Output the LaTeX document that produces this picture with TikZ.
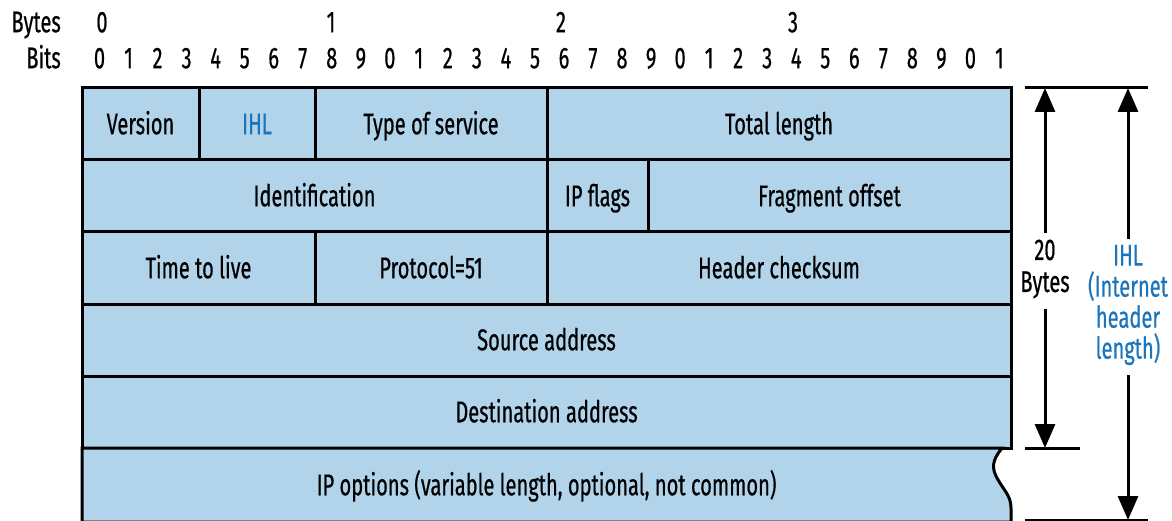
\documentclass[tikz,border=0pt]{standalone}
\usepackage{fontspec}
\setmainfont[FakeStretch=0.67,FakeBold=0.5]{Fira Sans}
\usetikzlibrary{arrows.meta}
\definecolor{cellfill}{HTML}{B2D4EA}
\definecolor{ihlblue}{HTML}{1B75BC}
\tikzset{
  cell/.style={draw=black, line width=3pt, fill=cellfill, inner sep=0pt, text height=20.5pt, text depth=0pt, font=\fontsize{30}{33}\selectfont},
  lbl/.style={inner sep=0pt, font=\fontsize{30}{31}\selectfont},
  flat/.style={text height=20.5pt, text depth=0pt},
  dimarr/.style={line width=3pt, -{Triangle[width=20pt,length=24pt]}},
  tick/.style={line width=3pt}
}
\begin{document}
\begin{tikzpicture}[x=1pt,y=-1pt]
\useasboundingbox (0,0) rectangle (1172,521);
% header labels
\node[lbl, flat, anchor=east] (bytes) at (61,22) {Bytes};
\node[lbl, flat, anchor=east] (bits) at (61,58) {Bits};
\foreach \b/\x in {0/102,1/331,2/561,3/793} \node[lbl, flat] (by\b) at (\x,22) {\b};
\foreach \i in {0,...,31} {
  \pgfmathtruncatemacro{\d}{mod(\i,10)}
  \node[lbl, flat] (bit\i) at ({85+29.03*(\i+0.5)},58) {\d};
}
% row 1
\node[cell, minimum width=117, minimum height=72] (ver) at (140.5,124) {Version};
\node[cell, minimum width=116, minimum height=72, text=ihlblue] (ihl) at (257,124) {IHL};
\node[cell, minimum width=232, minimum height=72] (tos) at (431,124) {Type of service};
\node[cell, minimum width=464, minimum height=72] (tl) at (779,124) {Total length};
% row 2
\node[cell, minimum width=465, minimum height=72] (id) at (314.5,196) {Identification};
\node[cell, minimum width=101, minimum height=72] (flags) at (597.5,196) {IP flags};
\node[cell, minimum width=363, minimum height=72] (frag) at (829.5,196) {Fragment offset};
% row 3
\node[cell, minimum width=233, minimum height=72] (ttl) at (198.5,268) {Time to live};
\node[cell, minimum width=232, minimum height=72] (proto) at (431,268) {Protocol=51};
\node[cell, minimum width=464, minimum height=72] (hc) at (779,268) {Header checksum};
% rows 4,5
\node[cell, minimum width=929, minimum height=72] (src) at (546.5,340) {Source address};
\node[cell, minimum width=929, minimum height=72] (dst) at (546.5,412) {Destination address};
% row 6 with wavy edge
\draw[line width=3pt, fill=cellfill] (82,448) -- (1002,448)
  .. controls (996,456) and (990,464) .. (996,476)
  .. controls (1003,490) and (1011,495) .. (1011,508)
  -- (1011,522) -- (82,522) -- cycle;
\node[lbl, flat] (opt) at (546.5,485) {IP options (variable length, optional, not common)};
% dimension markers
\coordinate (topL) at (1025,88);
\coordinate (topR) at (1148,88);
\coordinate (midL) at (1025,448);
\coordinate (midR) at (1080,448);
\coordinate (botL) at (1025,520);
\coordinate (botR) at (1148,520);
\draw[tick] (topL) -- (topR);
\draw[tick] (midL) -- (midR);
\draw[tick] (botL) -- (botR);
\node[lbl, align=center] (twenty) at (1045,269) {20\\[1pt]Bytes};
\node[lbl, align=center, text=ihlblue] (ihlnote) at (1128,305) {IHL\\(Internet\\header\\length)};
\coordinate (a1t) at (1045,88);
\coordinate (a1b) at (1045,448);
\coordinate (a2t) at (1128,88);
\coordinate (a2b) at (1128,520);
\draw[dimarr] (twenty.north) ++(0,-6) -- (a1t);
\draw[dimarr] (twenty.south) ++(0,10) -- (a1b);
\draw[dimarr] (ihlnote.north) ++(0,-6) -- (a2t);
\draw[dimarr] (ihlnote.south) ++(0,10) -- (a2b);
\end{tikzpicture}
\end{document}
